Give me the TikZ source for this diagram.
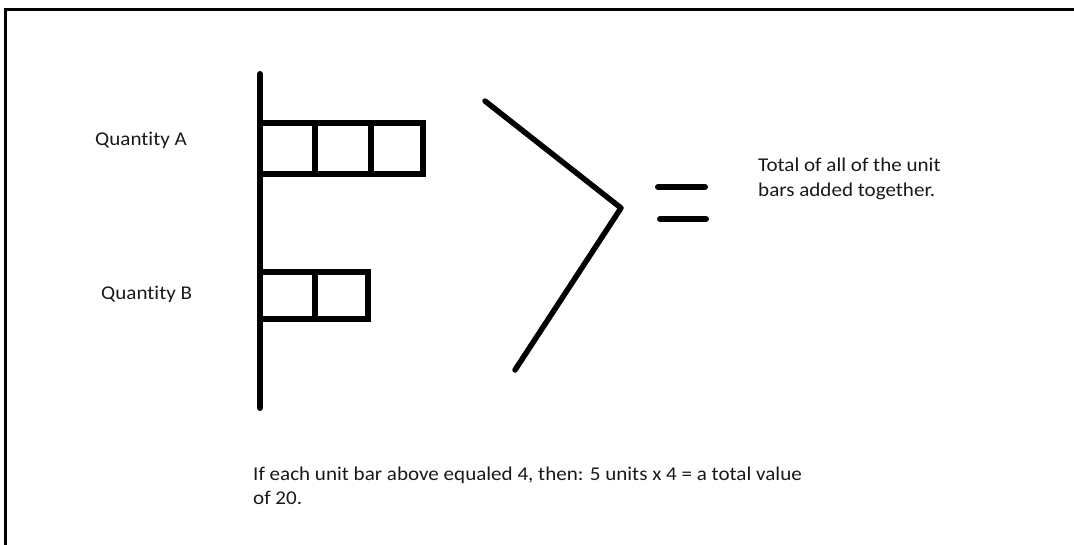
\documentclass[tikz,border=0pt]{standalone}
\usepackage{fontspec}
\setmainfont{Carlito}[Ligatures=NoCommon,FakeStretch=1.08]
\begin{document}
\begin{tikzpicture}[x=1pt,y=-1pt,
  lbl/.style={anchor=base west,inner sep=0pt,text=black!90,font=\fontsize{19.5}{25}\selectfont},
  thick6/.style={line width=6pt},
  bar/.style={line width=6pt,line join=miter},
]
\useasboundingbox (0,0) rectangle (1074,544);
% frame (only top and left visible)
\draw[line width=3pt] (5,560) -- (5,9) -- (1090,9);
% axis
\draw[thick6,line cap=round] (260,74) -- (260,408);
% Quantity A bars
\draw[bar] (260,122.5) rectangle (423,174);
\draw[bar] (315,122.5) -- (315,174);
\draw[bar] (371,122.5) -- (371,174);
% Quantity B bars
\draw[bar] (260,271.5) rectangle (368,319);
\draw[bar] (314.5,271.5) -- (314.5,319);
% greater-than chevron
\draw[line width=5.5pt,line cap=round,line join=round] (485,101) -- (621,208) -- (515,370);
% equals sign
\draw[thick6,line cap=round] (658,187) -- (705,187);
\draw[thick6,line cap=round] (660,219) -- (706,219);
% texts
\node[lbl] (qa) at (95,145) {Quantity A};
\node[lbl] (qb) at (101,299) {Quantity B};
\node[lbl] (t1) at (758,171) {Total of all of the unit};
\node[lbl] (t2) at (758,196) {bars added together.};
\node[lbl] (b1) at (253,480) {If each unit bar above equaled 4, then: 5 units x 4 = a total value};
\node[lbl] (b2) at (253,504) {of 20.};
\end{tikzpicture}
\end{document}
